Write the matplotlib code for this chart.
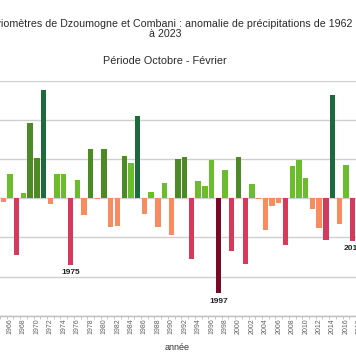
import matplotlib
matplotlib.use("Agg")
import matplotlib.pyplot as plt
import numpy as np

plt.rcParams['font.family'] = ['Liberation Sans', 'DejaVu Sans']

# Data (standardised precipitation anomaly, Oct-Feb)
years = list(range(1965, 2018))
values = [-0.10, 0.61, -1.45, 0.12, 1.91, 1.02, 2.76, -0.14, 0.63, 0.61,
          -1.71, 0.46, -0.43, 1.25, -0.02, 1.25, -0.73, -0.72, 1.07, 0.90,
          2.09, -0.41, 0.15, -0.73, 0.39, -0.93, 1.01, 1.05, -1.54, 0.44,
          0.31, 0.98, -2.43, 0.71, -1.34, 1.05, -1.68, 0.36, -0.03, -0.80,
          -0.20, -0.12, -1.20, 0.82, 0.97, 0.52, -0.28, -0.77, -1.07, 2.62,
          -0.66, 0.84, -1.10]
tick_years = list(range(1962, 2023, 2))
labelled_years = [1975, 1997, 2017]
y_ticks = [-3, -2, -1, 0, 1, 2, 3]

title_line1 = "Pluviomètres de Dzoumogne et Combani : anomalie de précipitations de 1962"
title_line2 = "à 2023"
subtitle = "Période Octobre - Février"
xlabel = "année"


def colour(v):
    if v >= 2:
        return "#1f6a3c"
    if v >= 1:
        return "#4b8a24"
    if v >= 0:
        return "#6bbd2d"
    if v > -1:
        return "#fa8a5f"
    if v > -2:
        return "#d5395c"
    return "#780a27"


W, H = 356, 364
fig = plt.figure(figsize=(W / 100, H / 100), dpi=100)
fig.patch.set_facecolor("white")

x0 = 10 - (1966 - 1961.5) * 6.72
x1 = 10 + (2023.5 - 1966) * 6.72
top_px, bot_px = 80.6, 315.8
ax = fig.add_axes([x0 / W, 1 - bot_px / H, (x1 - x0) / W, (bot_px - top_px) / H])

ax.bar(years, values, width=0.8, color=[colour(v) for v in values], zorder=3)

ax.set_xlim(1961.5, 2023.5)
ax.set_ylim(-3, 3)
ax.set_yticks(y_ticks)
ax.yaxis.grid(True, color="#cfcfcf", linewidth=1.0, zorder=0)
ax.tick_params(axis="y", length=0, labelsize=6)

ax.set_xticks(tick_years)
ax.set_xticklabels([str(y) for y in tick_years], rotation=90, fontsize=5, color="#606060")
ax.set_xticks(np.arange(1961.5, 2024, 1), minor=True)
ax.tick_params(axis="x", which="major", length=0, pad=1.5)
ax.tick_params(axis="x", which="minor", length=2.5, color="#bbbbbb", width=0.6)

for s in ["top", "left", "right"]:
    ax.spines[s].set_visible(False)
ax.spines["bottom"].set_color("#bfbfbf")
ax.spines["bottom"].set_linewidth(1.0)

for yr in labelled_years:
    v = values[years.index(yr)]
    ax.annotate(str(yr), xy=(yr, v), xytext=(0, -3), textcoords="offset points",
                ha="center", va="top", fontsize=6, fontweight="bold", color="#222222")

fig.text(352 / W, 1 - 24 / H, title_line1, ha="right", va="center", fontsize=7.68, color="#2a2a2a")
fig.text(165 / W, 1 - 34 / H, title_line2, ha="center", va="center", fontsize=7.68, color="#2a2a2a")
fig.text(165 / W, 1 - 61 / H, subtitle, ha="center", va="center", fontsize=7.8, color="#2a2a2a")
fig.text(177.5 / W, 1 - 348 / H, xlabel, ha="center", va="center", fontsize=6.5, color="#333333")

fig.savefig("out.png", dpi=100, facecolor="white")
